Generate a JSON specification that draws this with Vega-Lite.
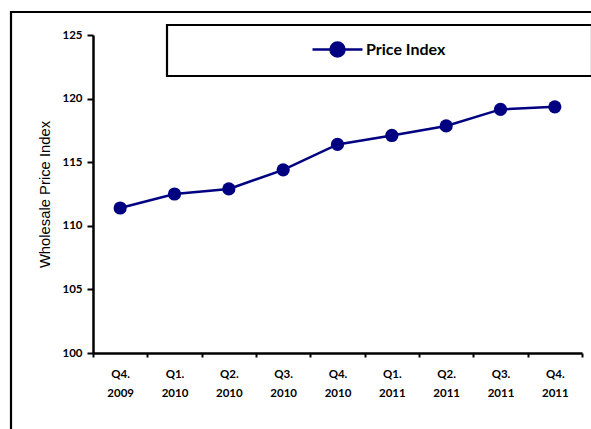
{
  "$schema": "https://vega.github.io/schema/vega-lite/v6.json",
  "autosize": "none",
  "width": 489,
  "height": 318,
  "padding": {"left": 93, "top": 35, "right": 9, "bottom": 76},
  "background": "white",
  "config": {"view": {"stroke": null}, "legend": {"strokeWidth": 2.2}},
  "data": {
    "values": [
      {"quarter": "Q4. 2009", "series": "Price Index", "value": 111.4},
      {"quarter": "Q1. 2010", "series": "Price Index", "value": 112.5},
      {"quarter": "Q2. 2010", "series": "Price Index", "value": 112.9},
      {"quarter": "Q3. 2010", "series": "Price Index", "value": 114.4},
      {"quarter": "Q4. 2010", "series": "Price Index", "value": 116.4},
      {"quarter": "Q1. 2011", "series": "Price Index", "value": 117.1},
      {"quarter": "Q2. 2011", "series": "Price Index", "value": 117.85},
      {"quarter": "Q3. 2011", "series": "Price Index", "value": 119.15},
      {"quarter": "Q4. 2011", "series": "Price Index", "value": 119.35}
    ]
  },
  "encoding": {
    "x": {
      "field": "quarter",
      "type": "ordinal",
      "sort": null,
      "scale": {"type": "band", "paddingInner": 0, "paddingOuter": 0},
      "axis": {
        "title": null,
        "labelAngle": 0,
        "tickBand": "extent",
        "labelExpr": "split(datum.label, ' ')",
        "labelFont": "Lato",
        "labelFontWeight": "bold",
        "labelFontSize": 11.5,
        "labelColor": "black",
        "labelLineHeight": 19,
        "labelPadding": 11,
        "labelBaseline": "top",
        "tickColor": "black",
        "tickSize": 4,
        "tickWidth": 2,
        "domainColor": "black",
        "domainWidth": 2.5,
        "grid": false
      }
    },
    "y": {
      "field": "value",
      "type": "quantitative",
      "scale": {"domain": [100, 125], "nice": false, "zero": false},
      "axis": {
        "title": "Wholesale Price Index",
        "titleFont": "Liberation Sans",
        "titleFontWeight": "normal",
        "titleFontSize": 14.8,
        "titleColor": "black",
        "titlePadding": 9,
        "values": [100, 105, 110, 115, 120, 125],
        "labelFont": "Lato",
        "labelFontWeight": "bold",
        "labelFontSize": 11.5,
        "labelColor": "black",
        "labelPadding": 5,
        "tickColor": "black",
        "tickSize": 6,
        "tickWidth": 2,
        "domainColor": "black",
        "domainWidth": 2.5,
        "grid": false
      }
    }
  },
  "layer": [
    {
      "mark": {"type": "line", "color": "#000080", "strokeWidth": 2.5},
      "encoding": {}
    },
    {
      "mark": {"type": "point", "filled": true, "opacity": 1, "size": 175},
      "encoding": {
        "color": {
          "field": "series",
          "type": "nominal",
          "scale": {"domain": ["Price Index"], "range": ["#000080"]},
          "legend": {
            "orient": "none",
            "legendX": 74,
            "legendY": -10,
            "title": " ",
            "titleOrient": "right",
            "titleAnchor": "start",
            "titleBaseline": "top",
            "titlePadding": 134,
            "titleFontSize": 25,
            "padding": 13,
            "strokeColor": "black",
            "fillColor": "white",
            "symbolType": "M-2.5,0L2.5,0M0.7,0A0.7,0.7,0,1,1,-0.7,0A0.7,0.7,0,1,1,0.7,0Z",
            "symbolSize": 400,
            "symbolOffset": 146,
            "symbolStrokeWidth": 2.5,
            "symbolStrokeColor": "#000080",
            "symbolFillColor": "#000080",
            "labelOffset": 17,
            "labelFont": "Lato",
            "labelFontWeight": "bold",
            "labelFontSize": 16,
            "labelColor": "black"
          }
        },
        "opacity": {
          "field": "quarter",
          "type": "ordinal",
          "sort": null,
          "scale": {"range": [1, 1]},
          "legend": {
            "orient": "none",
            "legendX": -82,
            "legendY": -23,
            "title": null,
            "padding": 400,
            "strokeColor": "black",
            "symbolSize": 0,
            "symbolStrokeWidth": 0,
            "symbolFillColor": "transparent",
            "symbolStrokeColor": "transparent",
            "labelExpr": "''",
            "values": ["Q4. 2009"]
          }
        }
      }
    }
  ]
}
